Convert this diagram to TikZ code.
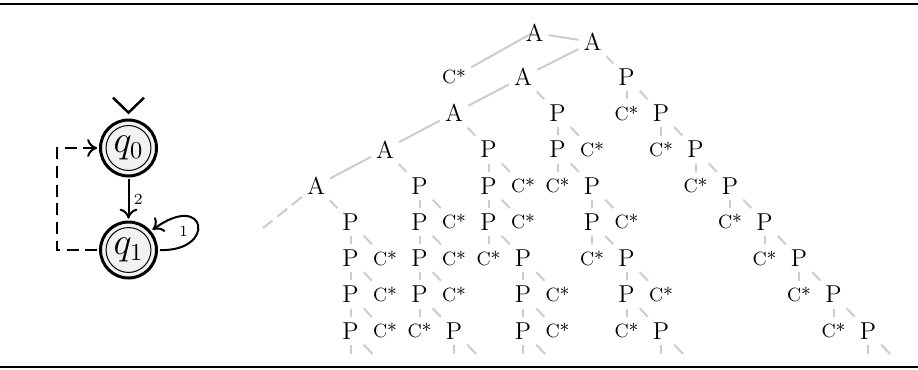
\documentclass[tikz,border=0pt]{standalone}
\usetikzlibrary{arrows.meta,backgrounds}
\begin{document}
\begin{tikzpicture}[x=0.45pt,y=-0.45pt,
  tn/.style={inner xsep=2.1pt, inner ysep=2.35pt, font=\fontsize{11}{13.6}\selectfont},
  cn/.style={inner xsep=2.1pt, inner ysep=2.7pt, font=\fontsize{8.6}{10.5}\selectfont},
  sedge/.style={draw=gray!40, line width=0.9pt},
  dedge/.style={sedge, dash pattern=on 5.8pt off 2.7pt},
  rulestyle/.style={line width=0.85pt},
  qstate/.style={circle, draw, line width=1.35pt, fill=gray!10, minimum size=25.2pt, inner sep=0pt, outer sep=1.5pt, font=\fontsize{16}{19}\selectfont},
  innerring/.style={line width=0.45pt},
  aedge/.style={line width=0.9pt, -{Computer Modern Rightarrow[length=4.5pt,width=8pt]}},
  dashaedge/.style={aedge, dash pattern=on 5.4pt off 3pt},
  lbl/.style={font=\scriptsize, inner sep=2pt}
]
\useasboundingbox (0,0) rectangle (918,369);
% rules
\coordinate (tl) at (0,4);
\coordinate (tr) at (918,4);
\coordinate (bl) at (0,367);
\coordinate (br) at (918,367);
\draw[rulestyle] (tl) -- (tr);
\draw[rulestyle] (bl) -- (br);

% automaton
\node[qstate] (q0) at (128.5,148) {$q_0$};
\node[qstate] (q1) at (128.5,250) {$q_1$};
\draw[innerring] (q0.center) circle (10.1pt);
\draw[innerring] (q1.center) circle (10.1pt);
\draw[line width=1.1pt] ([shift={(-15.5,-19)}]q0.north) -- ([shift={(0,-4)}]q0.north) -- ([shift={(15.5,-19)}]q0.north);
\draw[aedge] (q0) -- (q1) node[midway, right, lbl] {2};
\draw[aedge] (q1.east) .. controls +(57,2) and +(54.5,-40) .. (q1.40) node[pos=0.5, anchor=east, lbl, inner sep=4pt, yshift=-2.5pt] {1};
\draw[dashaedge] (q1.west) -- ++(-40,0) |- (q0.west);

% tree nodes
\node[tn] (r) at (534.5,33) {A};
\node[tn] (a2) at (592.5,42) {A};
\coordinate (stubA) at (263,228);
\begin{scope}[shift={(316,77)}, x=15.525pt, y=-16.3125pt]
  \foreach \k/\j in {6/0,4/1,2/2,0/3}
    \node[tn] (g-\k-\j) at (\k,\j) {A};
  \foreach \k/\j in {9/0,7/1,10/1,5/2,7/2,11/2,3/3,5/3,8/3,12/3,1/4,3/4,5/4,8/4,13/4,1/5,3/5,6/5,9/5,14/5,1/6,3/6,6/6,9/6,15/6,1/7,4/7,6/7,10/7,16/7}
    \node[tn] (g-\k-\j) at (\k,\j) {P};
  \foreach \k/\j in {4/0,9/1,8/2,10/2,6/3,7/3,11/3,4/4,6/4,9/4,12/4,2/5,4/5,5/5,8/5,13/5,2/6,4/6,7/6,10/6,14/6,2/7,3/7,7/7,9/7,15/7}
    \node[cn] (g-\k-\j) at (\k,\j) {C*};
  \foreach \k in {1,4,6,10,16}{
    \pgfmathtruncatemacro\kk{\k+1}
    \coordinate (s-\k) at (\k,8);
    \coordinate (t-\k) at (\kk,8);
  }
\end{scope}

\begin{pgfonlayer}{background}
  \draw[sedge] (g-4-0) -- ([xshift=-1pt]r.center);
  \draw[sedge] (r) -- (a2);
  \draw[sedge] (a2) -- (g-6-0);
  \draw[dedge] (a2) -- (g-9-0);
  \draw[sedge] (g-6-0) -- (g-4-1);
  \draw[dedge] (g-6-0) -- (g-7-1);
  \draw[sedge] (g-4-1) -- (g-2-2);
  \draw[dedge] (g-4-1) -- (g-5-2);
  \draw[sedge] (g-2-2) -- (g-0-3);
  \draw[dedge] (g-2-2) -- (g-3-3);
  \draw[dedge] (g-0-3) -- (stubA);
  \draw[dedge] (g-0-3) -- (g-1-4);
  \foreach \k/\j in {9/0,7/1,10/1,5/2,7/2,11/2,3/3,5/3,8/3,12/3,1/4,3/4,5/4,8/4,13/4,1/5,3/5,6/5,9/5,14/5,1/6,3/6,6/6,9/6,15/6}{
    \pgfmathtruncatemacro\kk{\k+1}
    \pgfmathtruncatemacro\jj{\j+1}
    \draw[dedge] (g-\k-\j) -- (g-\k-\jj);
    \draw[dedge] (g-\k-\j) -- (g-\kk-\jj);
  }
  \foreach \k in {1,4,6,10,16}{
    \draw[dedge, shorten >=6pt] (g-\k-7) -- (s-\k);
    \draw[dedge, shorten >=7.5pt] (g-\k-7) -- (t-\k);
  }
\end{pgfonlayer}
\end{tikzpicture}
\end{document}
